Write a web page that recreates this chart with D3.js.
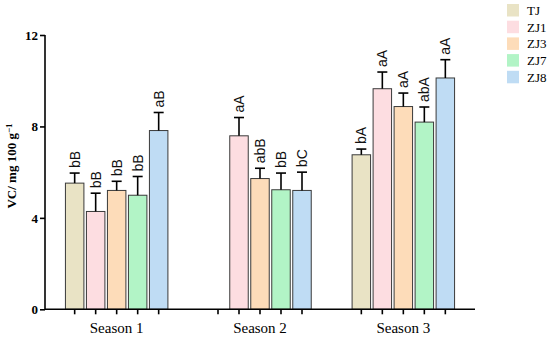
<!DOCTYPE html>
<html>
<head>
<meta charset="utf-8">
<script src="https://cdn.jsdelivr.net/npm/d3@7"></script>
<style>
  body { margin: 0; background: #fff; }
  svg { display: block; }
</style>
</head>
<body>
<svg id="chart" width="550" height="337"></svg>
<script>
// data
var seasons = ["Season 1", "Season 2", "Season 3"]
var cultivars = ["TJ", "ZJ1", "ZJ3", "ZJ7", "ZJ8"]
var colors = ["#e9e3c5", "#fddde1", "#fddcb9", "#b2f4c6", "#bfdcf4"]
// mean VC per cultivar, one value per season (null = not measured)
var vcTJ = [5.52, null, 6.76]
var vcZJ1 = [4.28, 7.59, 9.65]
var vcZJ3 = [5.20, 5.72, 8.87]
var vcZJ7 = [4.99, 5.23, 8.19]
var vcZJ8 = [7.82, 5.20, 10.12]
// standard errors
var errTJ = [0.44, null, 0.25]
var errZJ1 = [0.80, 0.80, 0.73]
var errZJ3 = [0.40, 0.45, 0.59]
var errZJ7 = [0.82, 0.73, 0.66]
var errZJ8 = [0.79, 0.80, 0.80]
// significance letters
var sigTJ = ["bB", null, "bA"]
var sigZJ1 = ["bB", "aA", "aA"]
var sigZJ3 = ["bB", "abB", "aA"]
var sigZJ7 = ["bB", "bB", "abA"]
var sigZJ8 = ["aB", "bC", "aA"]
var yTicks = [0, 4, 8, 12]

var means = [vcTJ, vcZJ1, vcZJ3, vcZJ7, vcZJ8]
var errs = [errTJ, errZJ1, errZJ3, errZJ7, errZJ8]
var sigs = [sigTJ, sigZJ1, sigZJ3, sigZJ7, sigZJ8]

var rows = []
seasons.forEach(function (s, si) {
	cultivars.forEach(function (c, ci) {
		rows.push({ season: s, cultivar: c, ci: ci, value: means[ci][si], err: errs[ci][si], sig: sigs[ci][si] })
	})
})

const X_LEFT = 45, X_RIGHT = 475, Y_TOP = 35, Y_BOTTOM = 309.3
var chart = d3.select("#chart")

var x0 = d3.scaleBand().domain(seasons).range([X_LEFT, X_RIGHT]).padding(0)
var x1 = d3.scaleBand().domain(cultivars).range([-52.5, 52.5]).paddingInner(0.12).paddingOuter(0.06)
var y = d3.scaleLinear().domain([0, 12]).range([Y_BOTTOM, Y_TOP])

var cx = function (d) { return x0(d.season) + x0.bandwidth() / 2 + x1(d.cultivar) + x1.bandwidth() / 2 }

// bars
var bars = rows.filter(function (d) { return d.value != null })
chart.append("g").selectAll("rect").data(bars).enter()
	.append("rect")
		.attr("x", function (d) { return cx(d) - x1.bandwidth() / 2 })
		.attr("y", function (d) { return y(d.value) })
		.attr("width", x1.bandwidth())
		.attr("height", function (d) { return y(0) - y(d.value) })
		.attr("fill", function (d) { return colors[d.ci] })
		.attr("stroke", "#3a3a3a")
		.attr("stroke-width", 1)

// error bars
var eb = chart.append("g").attr("stroke", "#000").attr("stroke-width", 1.6)
eb.selectAll("line.v").data(bars).enter().append("line").attr("class", "v")
	.attr("x1", cx).attr("x2", cx)
	.attr("y1", function (d) { return y(d.value) })
	.attr("y2", function (d) { return y(d.value + d.err) })
eb.selectAll("line.c").data(bars).enter().append("line").attr("class", "c")
	.attr("x1", function (d) { return cx(d) - 5 }).attr("x2", function (d) { return cx(d) + 5 })
	.attr("y1", function (d) { return y(d.value + d.err) })
	.attr("y2", function (d) { return y(d.value + d.err) })

// letters
chart.append("g").selectAll("text").data(bars).enter()
	.append("text")
		.attr("transform", function (d) { return "translate(" + cx(d) + "," + (y(d.value + d.err) - 5) + ") rotate(-90)" })
		.attr("dy", "0.36em")
		.attr("font-family", "Liberation Sans, Arial, sans-serif")
		.attr("font-size", "14px")
		.attr("fill", "#111")
		.text(function (d) { return d.sig })

// y axis
var yAxis = chart.append("g")
	.attr("transform", "translate(" + X_LEFT + ",0)")
	.call(d3.axisLeft(y).tickValues(yTicks).tickSize(5).tickPadding(2).tickFormat(d3.format("d")))
yAxis.select(".domain").attr("stroke-width", 1.6).attr("d", "M0," + Y_TOP + "V" + Y_BOTTOM)
yAxis.selectAll(".tick line").attr("stroke-width", 1.6)
yAxis.selectAll("text")
	.attr("font-family", "Liberation Serif, Times New Roman, serif")
	.attr("font-size", "13px")
	.attr("font-weight", "bold")
	.attr("fill", "#000")

// x axis
var xAxis = chart.append("g").attr("transform", "translate(0," + Y_BOTTOM + ")")
xAxis.append("line").attr("x1", X_LEFT).attr("x2", X_RIGHT)
	.attr("stroke", "#000").attr("stroke-width", 1.6)
xAxis.selectAll("line.tk").data(rows).enter().append("line").attr("class", "tk")
	.attr("x1", cx).attr("x2", cx).attr("y1", 0).attr("y2", 5)
	.attr("stroke", "#000").attr("stroke-width", 1.6)
xAxis.selectAll("text").data(seasons).enter().append("text")
	.attr("x", function (d) { return x0(d) + x0.bandwidth() / 2 })
	.attr("y", 24)
	.attr("text-anchor", "middle")
	.attr("font-family", "Liberation Serif, Times New Roman, serif")
	.attr("font-size", "15px")
	.text(function (d) { return d })

// y axis title
var yt = chart.append("text")
	.attr("transform", "translate(16,166) rotate(-90)")
	.attr("text-anchor", "middle")
	.attr("font-family", "Liberation Serif, Times New Roman, serif")
	.attr("font-size", "13px")
	.attr("font-weight", "bold")
yt.append("tspan").text("VC/ mg 100 g")
yt.append("tspan").attr("dy", "-0.45em").attr("font-size", "9px").text("−1")

// legend
var lg = chart.append("g").attr("transform", "translate(507,4)")
var li = lg.selectAll("g").data(cultivars).enter().append("g")
	.attr("transform", function (d, i) { return "translate(0," + i * 16.7 + ")" })
li.append("rect").attr("width", 12).attr("height", 12.5)
	.attr("fill", function (d, i) { return colors[i] })
li.append("text").attr("x", 20).attr("y", 6.5).attr("dy", "0.35em")
	.attr("font-family", "Liberation Serif, Times New Roman, serif")
	.attr("font-size", "13px")
	.text(function (d) { return d })
</script>
</body>
</html>
